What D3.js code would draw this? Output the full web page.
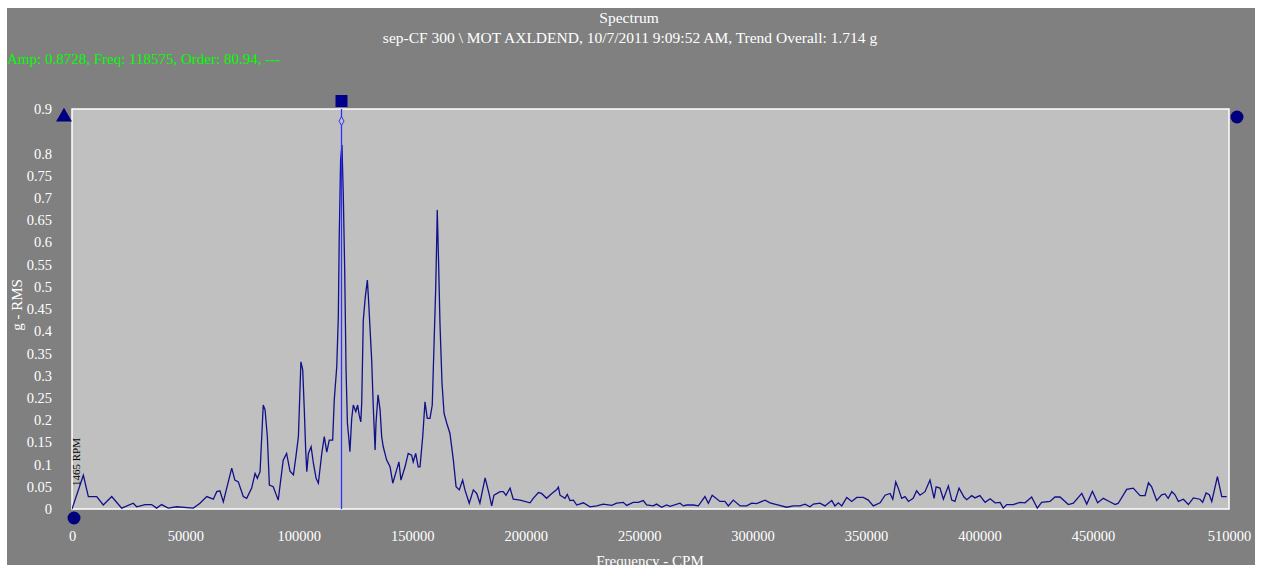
<!DOCTYPE html>
<html><head><meta charset="utf-8">
<script src="https://cdn.jsdelivr.net/npm/d3@7/dist/d3.min.js"></script>
<style>
html,body{margin:0;padding:0;background:#fff;}
svg{display:block;}
text{font-family:"Liberation Serif","Times New Roman",serif;}
</style></head>
<body><svg id="c" width="1261" height="565"></svg>
<script>
// ---- data (frequency in CPM, amplitude in g-RMS) ----
const freq = [0,5000,7200,10900,13800,17500,21900,27000,28500,32200,35100,37300,39500,42400,46100,53500,56400,59400,62300,63800,65200,66700,70400,71800,73300,75500,77000,79200,80700,81700,82900,84300,85100,86100,87000,88700,90900,93100,94600,96100,97600,98700,99800,100900,101700,102400,103000,103500,104200,105400,106400,107600,108600,110100,111200,112300,113400,114900,115600,116700,117400,117800,118400,119000,119600,120200,120800,121400,122100,122500,123300,124000,125100,125900,126600,127300,127700,128400,129300,130200,130800,131400,132100,132800,133600,134000,134900,135800,136500,137200,138700,140200,141400,143100,144100,145000,146800,148200,149700,150400,151500,152600,153400,154600,155600,156600,157800,158800,159600,160300,160800,161000,161600,162200,163100,164000,165200,166600,168100,169300,170700,172200,173200,175100,176900,178400,179800,182100,183900,185000,186000,188700,190100,191300,193100,194500,197500,201900,203300,205600,207000,209200,211500,213700,214400,215100,217300,218300,219500,221000,222500,225400,228300,231300,234200,237900,240100,243000,244500,247400,249600,251800,253300,256200,257700,259900,262100,263600,268000,269500,271000,273900,276100,279000,280500,282200,285600,287800,289300,291500,294500,297400,299600,301800,305500,307700,310600,315000,318000,320900,323100,325300,326800,329700,331900,334900,336300,337800,339300,341500,343700,345900,348800,351000,353200,356200,358400,360600,361800,363100,364200,365700,367200,368700,370800,372300,373800,376000,378200,380000,380900,382600,384100,386300,387800,389200,391000,393200,394400,396600,398000,400200,402500,404700,406900,409100,410500,412000,414900,417900,420100,423000,425500,427400,431100,433300,435500,439200,441400,445100,447300,449800,452100,454600,456800,459800,461200,464900,467800,470800,473000,474500,475900,478100,480300,481800,483200,484800,486200,487700,489900,492100,494300,497200,498400,499900,501300,502400,504900,506800,509000];
const amp = [0,0.076,0.028,0.028,0.009,0.028,0.002,0.013,0.005,0.010,0.010,0.002,0.010,0.002,0.005,0.002,0.013,0.028,0.022,0.039,0.041,0.016,0.092,0.065,0.061,0.028,0.024,0.047,0.080,0.069,0.084,0.234,0.223,0.163,0.054,0.050,0.020,0.110,0.125,0.085,0.077,0.118,0.163,0.331,0.313,0.223,0.133,0.084,0.125,0.140,0.103,0.069,0.058,0.125,0.163,0.128,0.155,0.155,0.245,0.320,0.433,0.613,0.785,0.819,0.703,0.538,0.313,0.193,0.155,0.129,0.204,0.234,0.219,0.234,0.211,0.196,0.238,0.425,0.478,0.515,0.463,0.403,0.335,0.230,0.133,0.193,0.257,0.223,0.163,0.140,0.110,0.095,0.058,0.088,0.106,0.065,0.095,0.125,0.121,0.106,0.125,0.095,0.095,0.163,0.241,0.204,0.204,0.234,0.373,0.493,0.613,0.673,0.553,0.418,0.283,0.215,0.193,0.170,0.110,0.050,0.043,0.065,0.043,0.013,0.043,0.035,0.013,0.070,0.033,0.007,0.031,0.039,0.039,0.031,0.047,0.022,0.020,0.014,0.024,0.037,0.035,0.024,0.035,0.044,0.049,0.031,0.024,0.033,0.019,0.020,0.009,0.014,0.005,0.007,0.011,0.008,0.013,0.015,0.008,0.015,0.015,0.019,0.009,0.007,0.011,0.004,0.009,0.006,0.013,0.007,0.009,0.009,0.007,0.028,0.013,0.031,0.017,0.017,0.007,0.020,0.007,0.007,0.013,0.012,0.020,0.014,0.010,0.004,0.007,0.007,0.011,0.005,0.011,0.013,0.007,0.019,0.007,0.014,0.007,0.026,0.017,0.026,0.026,0.020,0.007,0.014,0.031,0.035,0.022,0.061,0.047,0.024,0.028,0.017,0.024,0.041,0.031,0.039,0.065,0.024,0.050,0.047,0.022,0.052,0.020,0.017,0.047,0.027,0.021,0.030,0.025,0.030,0.015,0.023,0.014,0.015,0.002,0.010,0.010,0.015,0.014,0.027,0.002,0.015,0.017,0.027,0.027,0.010,0.013,0.035,0.011,0.040,0.014,0.024,0.018,0.010,0.013,0.044,0.047,0.030,0.030,0.059,0.050,0.019,0.032,0.034,0.024,0.039,0.032,0.017,0.022,0.010,0.025,0.022,0.015,0.036,0.032,0.017,0.073,0.028,0.028];
const yTickValues = [0,0.05,0.1,0.15,0.2,0.25,0.3,0.35,0.4,0.45,0.5,0.55,0.6,0.65,0.7,0.75,0.8,0.9];
const xTickValues = [0,50000,100000,150000,200000,250000,300000,350000,400000,450000,510000];
const cursorFreq = 118575, cursorAmp = 0.8728;
const titleText = "Spectrum";
const subtitleText = "sep-CF 300 \\ MOT AXLDEND, 10/7/2011 9:09:52 AM, Trend Overall: 1.714 g";
const cursorText = "Amp: 0.8728, Freq: 118575, Order: 80.94, ---";
const rpmText = "1465 RPM";

const svg = d3.select("#c");
// panel background
svg.append("rect").attr("x",7).attr("y",8).attr("width",1248).attr("height",557).attr("fill","#808080");

const L=72, R=1229, T=109, B=509;
const x = d3.scaleLinear().domain([0,510000]).range([L,R]);
const y = d3.scaleLinear().domain([0,0.9]).range([B,T]);

// plot area
svg.append("rect").attr("x",L).attr("y",T).attr("width",R-L).attr("height",B-T)
  .attr("fill","#c0c0c0").attr("stroke","#ffffff").attr("stroke-width",1.5);

// titles
svg.append("text").attr("x",629).attr("y",23).attr("text-anchor","middle")
  .attr("fill","#ffffff").attr("font-size",15.5).text(titleText);
svg.append("text").attr("x",630).attr("y",43).attr("text-anchor","middle")
  .attr("fill","#ffffff").attr("font-size",15.5).text(subtitleText);
svg.append("text").attr("x",7).attr("y",64).attr("fill","#00ff00")
  .attr("font-size",15).text(cursorText);

// y axis
const yAxis = d3.axisLeft(y).tickValues(yTickValues).tickSize(0).tickPadding(0)
  .tickFormat(d => d3.format("")(+d.toFixed(2)));
const gy = svg.append("g").attr("transform",`translate(52,0)`).call(yAxis);
gy.select(".domain").remove();
gy.selectAll("text").attr("fill","#ffffff").attr("font-size",14.5)
  .attr("font-family","Liberation Serif");

// x axis
const xAxis = d3.axisBottom(x).tickValues(xTickValues).tickSize(0).tickPadding(0)
  .tickFormat(d3.format("d"));
const gx = svg.append("g").attr("transform",`translate(0,531)`).call(xAxis);
gx.select(".domain").remove();
gx.selectAll("text").attr("fill","#ffffff").attr("font-size",14.5)
  .attr("font-family","Liberation Serif");

svg.append("text").attr("transform","translate(22,305) rotate(-90)").attr("text-anchor","middle")
  .attr("fill","#ffffff").attr("font-size",15).text("g - RMS");
svg.append("text").attr("x",650).attr("y",566).attr("text-anchor","middle")
  .attr("fill","#ffffff").attr("font-size",15).text("Frequency - CPM");

// spectrum line
const data = freq.map((f,i)=>({f, a:amp[i]}));
svg.append("clipPath").attr("id","pc").append("rect")
  .attr("x",L).attr("y",T).attr("width",R-L).attr("height",B-T);
svg.append("path").datum(data).attr("clip-path","url(#pc)")
  .attr("d", d3.line().x(d=>x(d.f)).y(d=>y(d.a)))
  .attr("fill","none").attr("stroke","#10108a").attr("stroke-width",1.3);

// RPM marker text
svg.append("text").attr("transform",`translate(${x(0)+8},486) rotate(-90)`)
  .attr("fill","#000000").attr("font-size",11).text(rpmText);

// cursor
const cx = Math.round(x(cursorFreq))+0.5;
svg.append("line").attr("x1",cx).attr("x2",cx).attr("y1",T).attr("y2",B)
  .attr("stroke","#2f2fff").attr("stroke-width",1.3);
svg.append("rect").attr("x",cx-6).attr("y",95).attr("width",12).attr("height",12).attr("fill","#00008b");
svg.append("path").attr("d",d3.symbol(d3.symbolDiamond,22)())
  .attr("transform",`translate(${cx},${y(cursorAmp)})`)
  .attr("fill","#c0c0c0").attr("stroke","#2f2fff").attr("stroke-width",1);

// corner markers
svg.append("path").attr("d",d3.symbol(d3.symbolTriangle,110)())
  .attr("transform",`translate(64,117)`).attr("fill","#00007f");
svg.append("circle").attr("cx",74).attr("cy",518).attr("r",6.5).attr("fill","#00007f");
svg.append("circle").attr("cx",1237).attr("cy",117).attr("r",6.5).attr("fill","#00007f");
</script></body></html>
